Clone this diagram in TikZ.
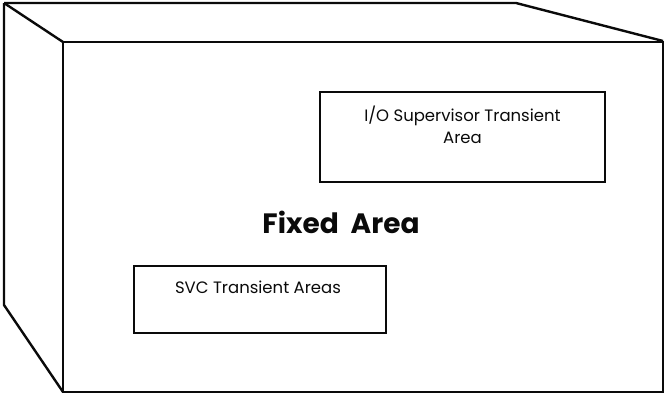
\documentclass[tikz,border=0pt]{standalone}
\usepackage{fontspec}
\setmainfont{Poppins}
\usetikzlibrary{positioning}
\definecolor{ink}{RGB}{10,10,10}
\tikzset{
  edge/.style={draw=ink,line width=2.4pt,line join=miter},
  area/.style={draw=ink,line width=1.9pt,minimum width=#1,inner sep=0pt},
  area/.default=252pt,
  area text/.style={align=center,font=\fontsize{16.5}{22}\selectfont,text=ink,inner sep=0pt},
  title/.style={font=\fontsize{28}{32}\selectfont\bfseries,text=ink},
}
\begin{document}
\begin{tikzpicture}[x=1pt,y=-1pt]
  \useasboundingbox (0,0) rectangle (667,394);
  % outline of the box
  \draw[edge] (4,3) -- (516,3) -- (663,41);
  \draw[edge] (4,3) -- (63,42);
  \draw[edge] (4,3) -- (4,305) -- (63,392);
  \draw[edge] (63,42) rectangle (663,392);
  % areas
  \node[area=285pt,minimum height=90pt] (io) at (462.5,137) {};
  \node[area text] (io text) at ([yshift=12pt]io.center) {I/O Supervisor Transient\\Area};
  \node[area=252pt,minimum height=67pt] (svc) at (260,299.5) {};
  \node[area text] (svc text) at ([xshift=-2pt,yshift=12pt]svc.center) {SVC Transient Areas};
  \node[title] (fixed) at (341,222) {Fixed\ \ Area};
\end{tikzpicture}
\end{document}
